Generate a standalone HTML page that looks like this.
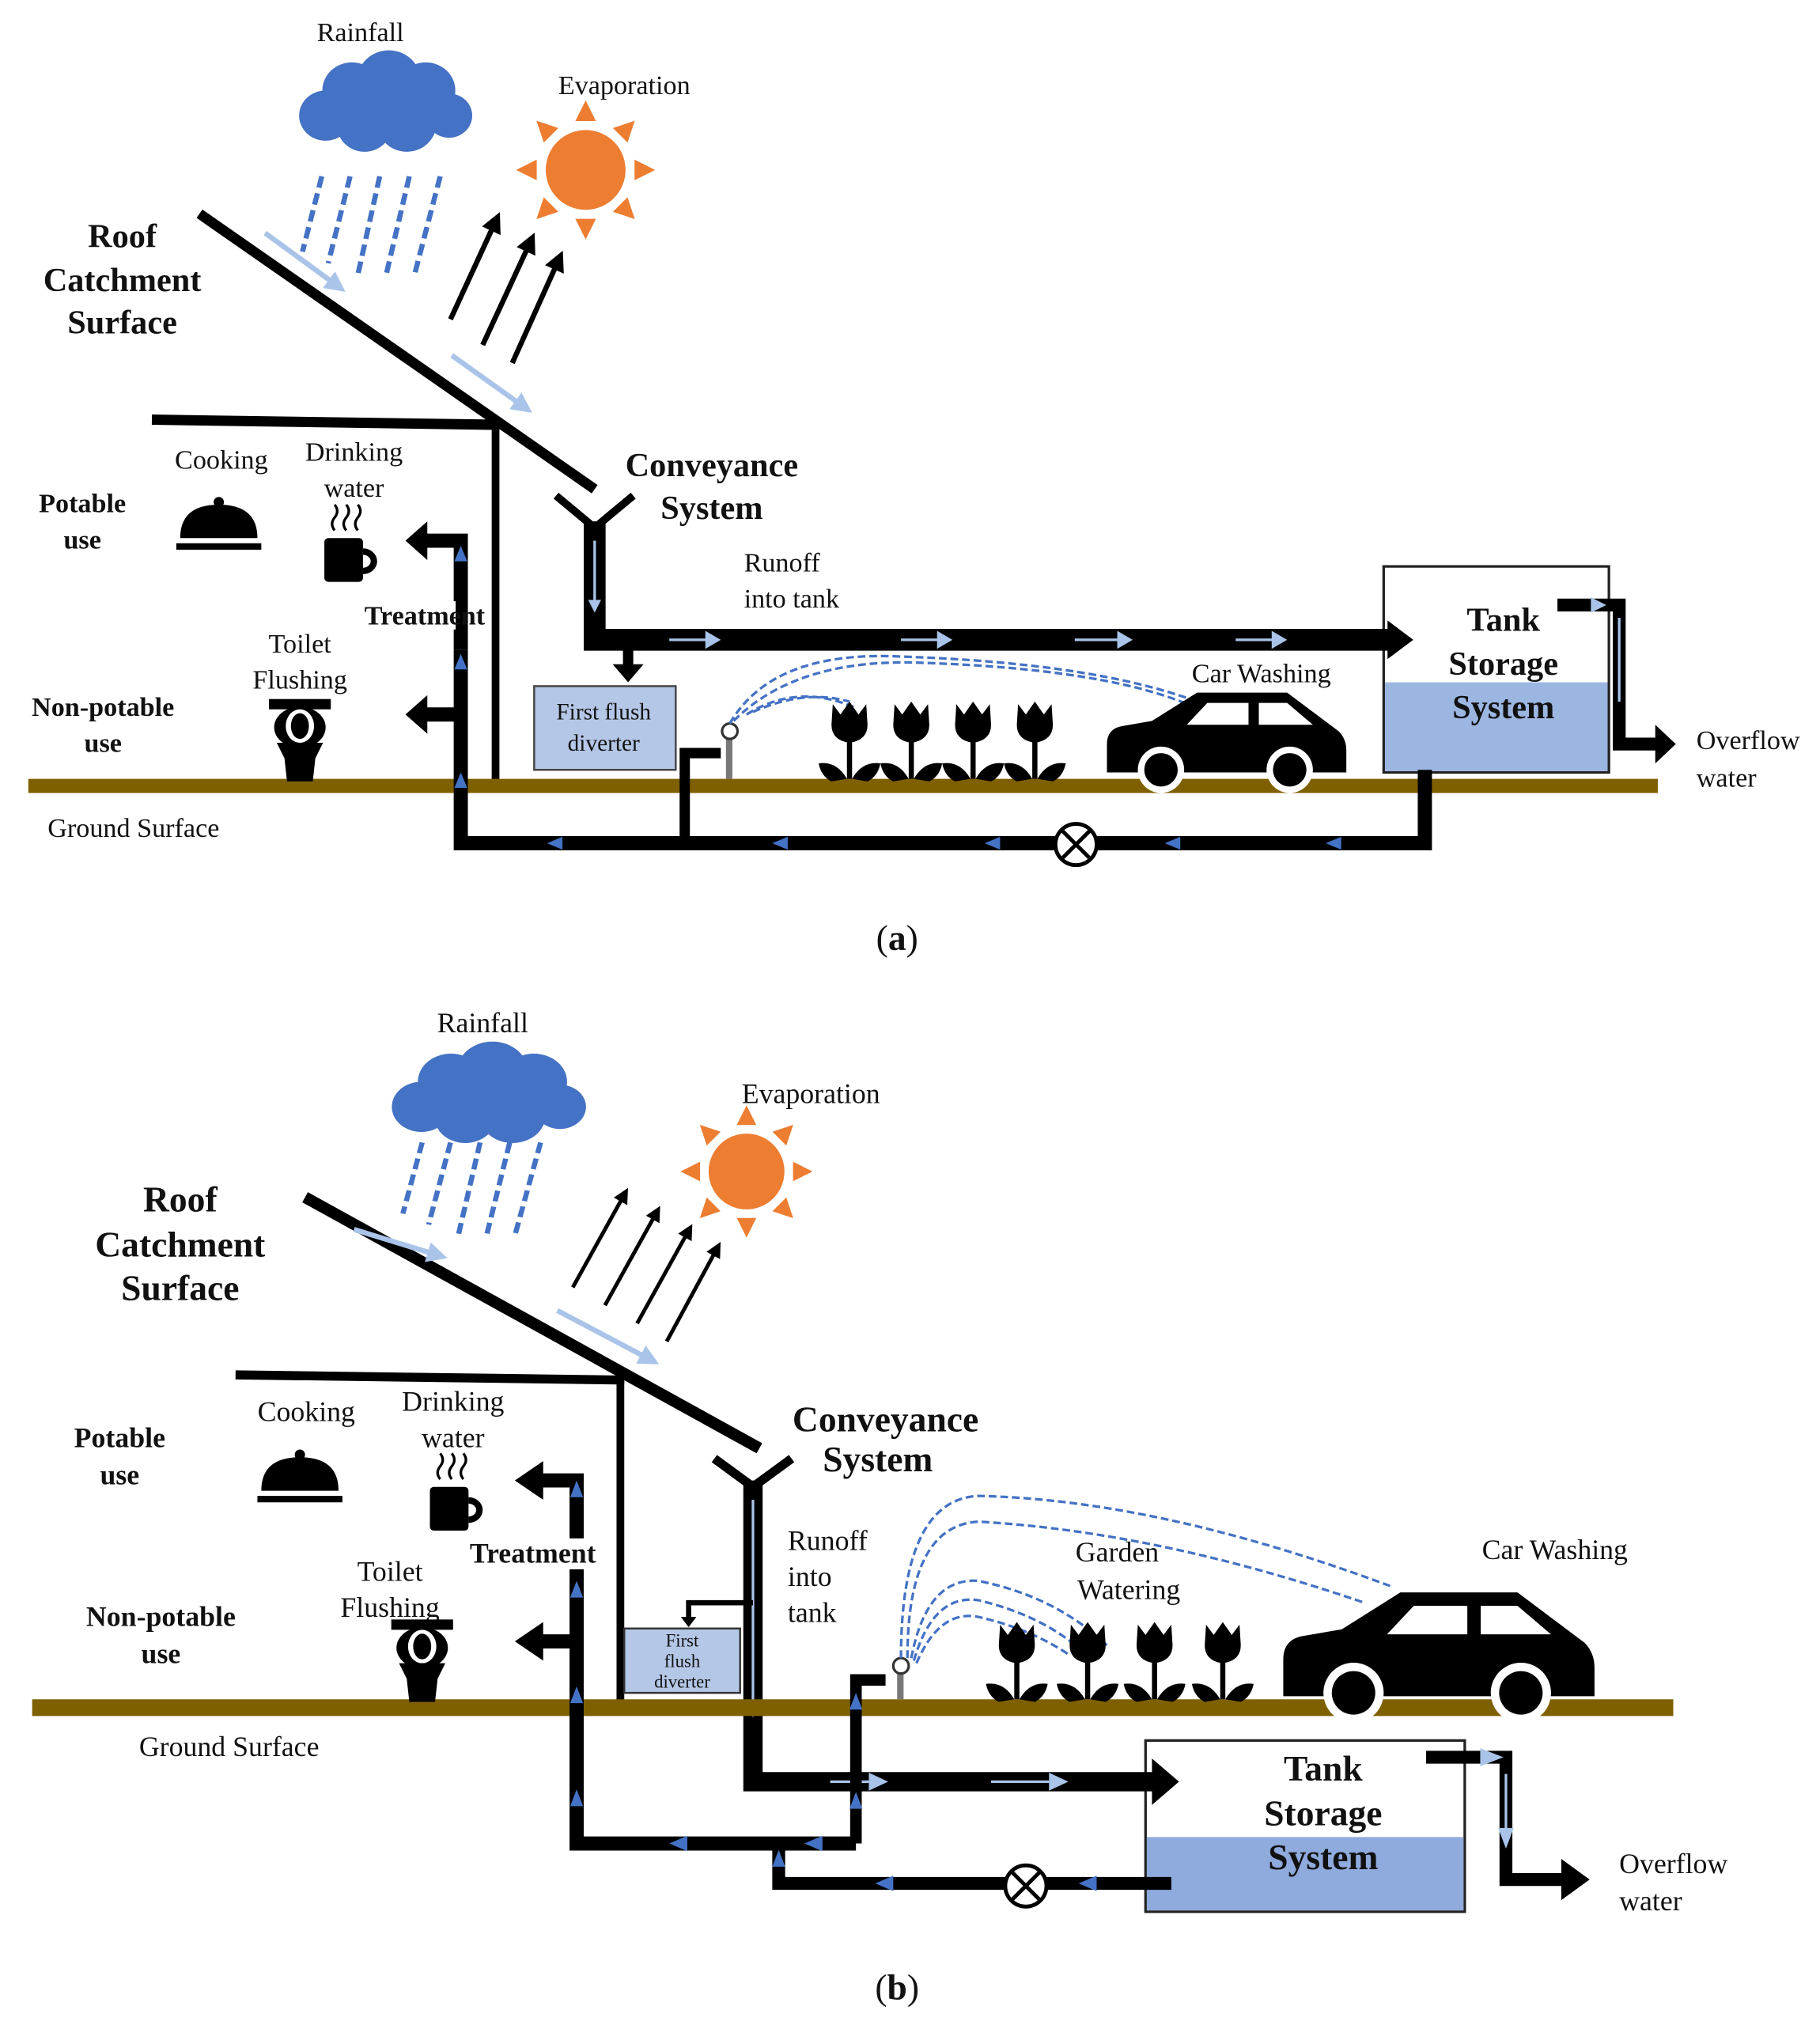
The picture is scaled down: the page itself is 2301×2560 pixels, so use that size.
<!DOCTYPE html>
<html><head><meta charset="utf-8"><style>
html,body{margin:0;padding:0;background:#fff}
svg{display:block}
text{font-family:"Liberation Serif",serif;fill:#111}
.b{font-weight:bold}
</style></head><body>
<svg width="2301" height="2560" viewBox="0 0 1414 1573" preserveAspectRatio="none" xmlns="http://www.w3.org/2000/svg">
<defs>
<marker id="ah" markerWidth="4" markerHeight="4" refX="2" refY="2" orient="auto" markerUnits="strokeWidth"><path d="M0,0L4,2L0,4Z" fill="#000"/></marker>
<marker id="lb" markerWidth="4" markerHeight="4" refX="2" refY="2" orient="auto" markerUnits="strokeWidth"><path d="M0,0L4,2L0,4Z" fill="#a9c4e8"/></marker>
<g id="cloud" fill="#4472c4"><circle cx="-55" cy="10" r="25"/><circle cx="-30" cy="-15" r="28"/><circle cx="5" cy="-25" r="30"/><circle cx="40" cy="-15" r="28"/><circle cx="62" cy="10" r="22"/><circle cx="22" cy="18" r="28"/><circle cx="-18" cy="20" r="26"/></g>
<g id="rain" stroke="#4472c4" stroke-width="4" stroke-dasharray="10,5"><line x1="-50" y1="30" x2="-65" y2="95"/><line x1="-28" y1="30" x2="-45" y2="105"/><line x1="-5" y1="30" x2="-22" y2="115"/><line x1="18" y1="30" x2="0" y2="115"/><line x1="42" y1="30" x2="22" y2="115"/></g>
<g id="sun" fill="#ed7d31"><circle r="31"/>
<g fill="#ed7d31"><polygon points="-8,-38 8,-38 0,-54"/><polygon points="-8,-38 8,-38 0,-54" transform="rotate(45)"/><polygon points="-8,-38 8,-38 0,-54" transform="rotate(90)"/><polygon points="-8,-38 8,-38 0,-54" transform="rotate(135)"/><polygon points="-8,-38 8,-38 0,-54" transform="rotate(180)"/><polygon points="-8,-38 8,-38 0,-54" transform="rotate(225)"/><polygon points="-8,-38 8,-38 0,-54" transform="rotate(270)"/><polygon points="-8,-38 8,-38 0,-54" transform="rotate(315)"/></g></g>
<g id="tulip" fill="#000"><path d="M-13,-38 L-7,-30 L0,-40 L7,-30 L13,-38 L14,-22 Q14,-10 0,-8 Q-14,-10 -14,-22 Z"/><rect x="-2" y="-10" width="4" height="30"/><path d="M-24,8 Q-10,6 -2,20 L-14,22 Q-22,18 -24,8Z"/><path d="M24,8 Q10,6 2,20 L14,22 Q22,18 24,8Z"/></g>
<g id="car"><path d="M0,40 Q0,28 12,26 L35,22 L70,0 L140,0 L180,30 Q186,36 186,45 L186,62 L0,62 Z" fill="#000"/><path d="M62,25 L78,8 L110,8 L110,25Z M118,8 L140,8 L160,25 L118,25Z" fill="#fff"/><circle cx="42" cy="60" r="18" fill="#fff"/><circle cx="42" cy="60" r="13" fill="#000"/><circle cx="142" cy="60" r="18" fill="#fff"/><circle cx="142" cy="60" r="13" fill="#000"/></g>
<g id="cloche" fill="#000"><circle cx="0" cy="-28" r="4"/><path d="M-30,0 Q-30,-26 0,-26 Q30,-26 30,0Z"/><rect x="-33" y="4" width="66" height="5"/></g>
<g id="mug" fill="#000"><rect x="-18" y="0" width="30" height="34" rx="3"/><path d="M12,8 a11,10 0 0 1 0,20 v-5 a6,5 0 0 0 0,-10z"/><path d="M-10,-6 q-4,-5 0,-10 q4,-5 0,-10 M-1,-6 q-4,-5 0,-10 q4,-5 0,-10 M8,-6 q-4,-5 0,-10 q4,-5 0,-10" fill="none" stroke="#000" stroke-width="2"/></g>
<g id="toilet" fill="#000"><rect x="-24" y="-32" width="48" height="8"/><ellipse cx="0" cy="-10" rx="20" ry="16"/><ellipse cx="0" cy="-11" rx="11" ry="13" fill="#fff"/><ellipse cx="0" cy="-11" rx="7" ry="10"/><path d="M-18,2 L18,2 L12,14 L10,32 L-10,32 L-12,14Z"/></g>
</defs>

<!-- ===== PANEL A ===== -->
<use href="#cloud" transform="translate(298,82) scale(0.82,0.78)"/>
<use href="#rain" transform="translate(300,110) scale(1,0.9)"/>
<text x="280" y="32" font-size="21" text-anchor="middle">Rainfall</text>
<text x="485" y="73" font-size="21" text-anchor="middle">Evaporation</text>
<use href="#sun" x="455" y="132"/>
<line x1="155" y1="166" x2="462" y2="380" stroke="#000" stroke-width="8"/>
<line x1="206" y1="181" x2="262" y2="222" stroke="#a9c4e8" stroke-width="4" marker-end="url(#lb)"/>
<line x1="351" y1="276" x2="407" y2="316" stroke="#a9c4e8" stroke-width="4" marker-end="url(#lb)"/>
<line x1="350" y1="248" x2="385" y2="172" stroke="#000" stroke-width="4" marker-end="url(#ah)"/>
<line x1="375" y1="268" x2="412" y2="188" stroke="#000" stroke-width="4" marker-end="url(#ah)"/>
<line x1="398" y1="282" x2="434" y2="202" stroke="#000" stroke-width="4" marker-end="url(#ah)"/>
<text class="b" font-size="26" text-anchor="middle"><tspan x="95" y="192">Roof</tspan><tspan x="95" y="226">Catchment</tspan><tspan x="95" y="259">Surface</tspan></text>
<line x1="118" y1="326" x2="388" y2="330" stroke="#000" stroke-width="8"/>
<line x1="385" y1="330" x2="385" y2="607" stroke="#000" stroke-width="6"/>
<text class="b" font-size="26" text-anchor="middle"><tspan x="553" y="370">Conveyance</tspan><tspan x="553" y="403">System</tspan></text>
<text font-size="21"><tspan x="578" y="444">Runoff</tspan><tspan x="578" y="472">into tank</tspan></text>
<path d="M432,385 L462,410 L492,385" fill="none" stroke="#000" stroke-width="6"/>
<!-- tank -->
<rect x="1075" y="440" width="175" height="160" fill="#fff" stroke="#222" stroke-width="2"/>
<rect x="1076" y="530" width="173" height="69" fill="#9cb6e2"/>
<text class="b" font-size="26" text-anchor="middle"><tspan x="1168" y="490">Tank</tspan><tspan x="1168" y="524">Storage</tspan><tspan x="1168" y="558">System</tspan></text>
<path d="M462,405 V497 H1080" fill="none" stroke="#000" stroke-width="17"/>
<polygon points="1078,482 1098,497 1078,512" fill="#000"/>
<line x1="462" y1="420" x2="462" y2="470" stroke="#a9c4e8" stroke-width="2"/>
<polygon points="457,466 467,466 462,476" fill="#a9c4e8"/>
<g fill="#a9c4e8"><rect x="520" y="496" width="30" height="2"/><polygon points="548,490 560,497 548,504"/><rect x="700" y="496" width="30" height="2"/><polygon points="728,490 740,497 728,504"/><rect x="835" y="496" width="35" height="2"/><polygon points="868,490 880,497 868,504"/><rect x="960" y="496" width="30" height="2"/><polygon points="988,490 1000,497 988,504"/></g>
<line x1="488" y1="505" x2="488" y2="520" stroke="#000" stroke-width="8"/>
<polygon points="476,516 500,516 488,530" fill="#000"/>
<rect x="415" y="533" width="110" height="65" fill="#b4c7e7" stroke="#444" stroke-width="1.5"/>
<text font-size="18" text-anchor="middle"><tspan x="469" y="559">First flush</tspan><tspan x="469" y="583">diverter</tspan></text>
<path d="M1210,470 H1258 V578 H1288" fill="none" stroke="#000" stroke-width="10"/>
<polygon points="1286,563 1302,578 1286,593" fill="#000"/>
<line x1="1258" y1="480" x2="1258" y2="545" stroke="#a9c4e8" stroke-width="2"/>
<polygon points="1236,464 1248,470 1236,476" fill="#a9c4e8"/>
<text font-size="21"><tspan x="1318" y="582">Overflow</tspan><tspan x="1318" y="611">water</tspan></text>
<rect x="22" y="605" width="1266" height="11" fill="#7f6000"/>
<text font-size="21"><tspan x="37" y="650">Ground Surface</tspan></text>
<path d="M1107,598 V655 H358 V505" fill="none" stroke="#000" stroke-width="11"/>
<path d="M532,655 V585 H560" fill="none" stroke="#000" stroke-width="8"/>
<path d="M358,505 V420 H330" fill="none" stroke="#000" stroke-width="11"/>
<polygon points="332,405 315,420 332,435" fill="#000"/>
<path d="M358,555 H330" stroke="#000" stroke-width="11"/>
<polygon points="332,540 315,555 332,570" fill="#000"/>
<circle cx="836" cy="656" r="16" fill="#fff" stroke="#000" stroke-width="3"/>
<path d="M825,645 L847,667 M847,645 L825,667" stroke="#000" stroke-width="3"/>
<g fill="#4472c4"><polygon points="1030,655 1042,650 1042,660"/><polygon points="905,655 917,650 917,660"/><polygon points="765,655 777,650 777,660"/><polygon points="600,655 612,650 612,660"/><polygon points="425,655 437,650 437,660"/><polygon points="358,508 353,520 363,520"/><polygon points="358,600 353,612 363,612"/><polygon points="358,424 353,436 363,436"/></g>
<rect x="284" y="467" width="70" height="22" fill="#fff"/>
<text class="b" font-size="21" text-anchor="middle"><tspan x="64" y="398">Potable</tspan><tspan x="64" y="426">use</tspan><tspan x="80" y="556">Non-potable</tspan><tspan x="80" y="584">use</tspan><tspan x="330" y="485">Treatment</tspan></text>
<text font-size="21" text-anchor="middle"><tspan x="172" y="364">Cooking</tspan><tspan x="275" y="358">Drinking</tspan><tspan x="275" y="386">water</tspan><tspan x="233" y="507">Toilet</tspan><tspan x="233" y="535">Flushing</tspan><tspan x="980" y="530">Car Washing</tspan></text>
<use href="#cloche" x="170" y="418"/>
<use href="#mug" x="270" y="418"/>
<use href="#toilet" x="233" y="575"/>
<rect x="564" y="572" width="5" height="33" fill="#777"/><circle cx="567" cy="568" r="6" fill="#fff" stroke="#333" stroke-width="2"/>
<g fill="none" stroke="#4472c4" stroke-width="2" stroke-dasharray="6,3"><path d="M567,562 Q600,505 700,510 Q850,515 930,545"/><path d="M570,560 Q620,510 720,515 Q860,520 925,548"/><path d="M580,555 Q620,530 665,550"/><path d="M585,553 Q625,535 660,545"/></g>
<use href="#tulip" x="660" y="585"/><use href="#tulip" x="708" y="585"/><use href="#tulip" x="756" y="585"/><use href="#tulip" x="804" y="585"/>
<use href="#car" x="860" y="538"/>
<text x="697" y="738" font-size="28" text-anchor="middle">(<tspan class="b">a</tspan>)</text>

<!-- ===== PANEL B ===== -->
<use href="#cloud" transform="translate(378,852) scale(0.92,0.78)"/>
<use href="#rain" transform="translate(378,862) scale(1,0.85)"/>
<text x="375" y="802" font-size="22" text-anchor="middle">Rainfall</text>
<text x="630" y="857" font-size="22" text-anchor="middle">Evaporation</text>
<use href="#sun" transform="translate(580,910) scale(0.95)"/>
<line x1="237" y1="930" x2="590" y2="1125" stroke="#000" stroke-width="9"/>
<line x1="275" y1="955" x2="340" y2="975" stroke="#a9c4e8" stroke-width="4" marker-end="url(#lb)"/>
<line x1="433" y1="1018" x2="505" y2="1056" stroke="#a9c4e8" stroke-width="4" marker-end="url(#lb)"/>
<line x1="445" y1="1000" x2="485" y2="928" stroke="#000" stroke-width="3" marker-end="url(#ah)"/>
<line x1="470" y1="1014" x2="510" y2="942" stroke="#000" stroke-width="3" marker-end="url(#ah)"/>
<line x1="495" y1="1028" x2="535" y2="956" stroke="#000" stroke-width="3" marker-end="url(#ah)"/>
<line x1="518" y1="1042" x2="557" y2="970" stroke="#000" stroke-width="3" marker-end="url(#ah)"/>
<text class="b" font-size="28" text-anchor="middle"><tspan x="140" y="941">Roof</tspan><tspan x="140" y="976">Catchment</tspan><tspan x="140" y="1010">Surface</tspan></text>
<line x1="183" y1="1068" x2="485" y2="1072" stroke="#000" stroke-width="7"/>
<line x1="482" y1="1070" x2="482" y2="1322" stroke="#000" stroke-width="6"/>
<text class="b" font-size="28" text-anchor="middle"><tspan x="688" y="1112">Conveyance</tspan><tspan x="682" y="1143">System</tspan></text>
<text font-size="22"><tspan x="612" y="1204">Runoff</tspan><tspan x="612" y="1232">into</tspan><tspan x="612" y="1260">tank</tspan></text>
<path d="M555,1133 L585,1155 L615,1133" fill="none" stroke="#000" stroke-width="7"/>
<rect x="890" y="1352" width="248" height="133" fill="#fff" stroke="#222" stroke-width="2"/>
<rect x="891" y="1427" width="246" height="57" fill="#8faadc"/>
<text class="b" font-size="28" text-anchor="middle"><tspan x="1028" y="1383">Tank</tspan><tspan x="1028" y="1418">Storage</tspan><tspan x="1028" y="1452">System</tspan></text>
<path d="M585,1150 V1384 H897" fill="none" stroke="#000" stroke-width="15"/>
<polygon points="895,1366 916,1384 895,1402" fill="#000"/>
<line x1="585" y1="1165" x2="585" y2="1330" stroke="#a9c4e8" stroke-width="2"/>
<polygon points="580,1322 590,1322 585,1334" fill="#a9c4e8"/>
<g fill="#a9c4e8"><rect x="645" y="1383" width="30" height="2"/><polygon points="675,1377 690,1384 675,1391"/><rect x="770" y="1383" width="45" height="2"/><polygon points="815,1377 830,1384 815,1391"/></g>
<path d="M585,1245 H535 V1258" fill="none" stroke="#000" stroke-width="4"/>
<polygon points="529,1256 541,1256 535,1264" fill="#000"/>
<rect x="485" y="1265" width="90" height="50" fill="#b4c7e7" stroke="#333" stroke-width="1.5"/>
<text font-size="14" text-anchor="middle"><tspan x="530" y="1279">First</tspan><tspan x="530" y="1295">flush</tspan><tspan x="530" y="1311">diverter</tspan></text>
<path d="M1108,1365 H1170 V1460 H1215" fill="none" stroke="#000" stroke-width="10"/>
<polygon points="1213,1444 1235,1460 1213,1476" fill="#000"/>
<polygon points="1150,1358 1168,1365 1150,1372" fill="#a9c4e8"/>
<line x1="1170" y1="1378" x2="1170" y2="1430" stroke="#a9c4e8" stroke-width="2"/>
<polygon points="1164,1420 1176,1420 1170,1436" fill="#a9c4e8"/>
<text font-size="22"><tspan x="1258" y="1455">Overflow</tspan><tspan x="1258" y="1484">water</tspan></text>
<rect x="25" y="1320" width="1275" height="13" fill="#7f6000"/>
<text x="178" y="1364" font-size="22" text-anchor="middle">Ground Surface</text>
<path d="M910,1463 H605 V1432" fill="none" stroke="#000" stroke-width="10"/>
<path d="M665,1432 H448 V1150 H420" fill="none" stroke="#000" stroke-width="11"/>
<path d="M665,1432 V1305 H688" fill="none" stroke="#000" stroke-width="9"/>
<path d="M448,1275 H420" stroke="#000" stroke-width="11"/>
<polygon points="422,1135 400,1150 422,1165" fill="#000"/>
<polygon points="422,1260 400,1275 422,1290" fill="#000"/>
<circle cx="797" cy="1465" r="16" fill="#fff" stroke="#000" stroke-width="3"/>
<path d="M786,1454 L808,1476 M808,1454 L786,1476" stroke="#000" stroke-width="3"/>
<g fill="#4472c4"><polygon points="838,1463 852,1457 852,1469"/><polygon points="680,1463 694,1457 694,1469"/><polygon points="520,1432 534,1426 534,1438"/><polygon points="625,1432 639,1426 639,1438"/><polygon points="448,1150 443,1163 453,1163"/><polygon points="448,1228 443,1241 453,1241"/><polygon points="448,1310 443,1323 453,1323"/><polygon points="448,1390 443,1403 453,1403"/><polygon points="665,1315 660,1328 670,1328"/><polygon points="665,1392 660,1405 670,1405"/><polygon points="605,1437 600,1450 610,1450"/></g>
<rect x="360" y="1195" width="108" height="24" fill="#fff"/>
<text class="b" font-size="22" text-anchor="middle"><tspan x="93" y="1124">Potable</tspan><tspan x="93" y="1153">use</tspan><tspan x="125" y="1263">Non-potable</tspan><tspan x="125" y="1292">use</tspan><tspan x="414" y="1214">Treatment</tspan></text>
<text font-size="22" text-anchor="middle"><tspan x="238" y="1104">Cooking</tspan><tspan x="352" y="1096">Drinking</tspan><tspan x="352" y="1124">water</tspan><tspan x="303" y="1228">Toilet</tspan><tspan x="303" y="1256">Flushing</tspan><tspan x="868" y="1213">Garden</tspan><tspan x="877" y="1242">Watering</tspan><tspan x="1208" y="1211">Car Washing</tspan></text>
<use href="#cloche" x="233" y="1158"/>
<use href="#mug" x="352" y="1155"/>
<use href="#toilet" x="328" y="1290"/>
<rect x="697" y="1298" width="5" height="22" fill="#777"/><circle cx="700" cy="1294" r="6" fill="#fff" stroke="#333" stroke-width="2"/>
<g fill="none" stroke="#4472c4" stroke-width="2" stroke-dasharray="6,3"><path d="M700,1288 Q700,1165 760,1162 Q900,1165 1080,1232"/><path d="M705,1288 Q705,1185 760,1182 Q900,1190 1060,1245"/><path d="M708,1288 Q720,1225 760,1228 Q820,1240 860,1278"/><path d="M710,1290 Q725,1238 760,1243 Q810,1255 840,1282"/><path d="M712,1292 Q730,1250 760,1256 Q800,1265 830,1285"/></g>
<use href="#tulip" x="790" y="1300"/><use href="#tulip" x="845" y="1300"/><use href="#tulip" x="897" y="1300"/><use href="#tulip" x="950" y="1300"/>
<g transform="translate(997,1237) scale(1.3)"><use href="#car"/></g>
<text x="697" y="1553" font-size="28" text-anchor="middle">(<tspan class="b">b</tspan>)</text>
</svg>
</body></html>
